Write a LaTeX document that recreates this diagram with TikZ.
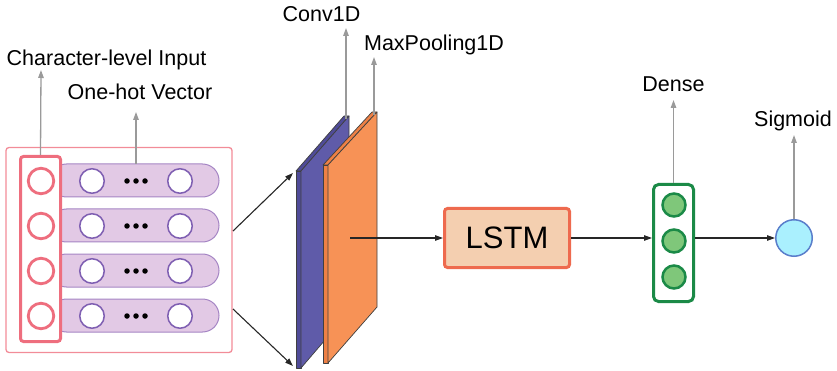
\documentclass[tikz,border=0pt]{standalone}
\usepackage{fontspec}
\setmainfont{Liberation Sans}
\usetikzlibrary{arrows.meta}
\definecolor{grayarr}{HTML}{9A9A9A}
\definecolor{redline}{HTML}{EE6E7E}
\definecolor{redouter}{HTML}{F28C98}
\definecolor{pillfill}{HTML}{E2C9E5}
\definecolor{pillline}{HTML}{A585C4}
\definecolor{purpc}{HTML}{7F5FB2}
\definecolor{blueslab}{HTML}{5F5BA9}
\definecolor{blueside}{HTML}{4F4B98}
\definecolor{orslab}{HTML}{F79256}
\definecolor{orside}{HTML}{EE8045}
\definecolor{lstmfill}{HTML}{F4CFB0}
\definecolor{lstmline}{HTML}{EE6A4E}
\definecolor{densel}{HTML}{1B8A47}
\definecolor{densef}{HTML}{7FC77A}
\definecolor{sigf}{HTML}{AAF0FE}
\definecolor{sigl}{HTML}{5A7ECB}
\begin{document}
\begin{tikzpicture}[x=1pt,y=-1pt,
  lbl/.style={font=\fontsize{21.5}{25}\selectfont, anchor=base, inner sep=0pt},
  garrow/.style={draw=grayarr, line width=1.3pt, -{Triangle[length=8pt,width=5.5pt]}},
  barrow/.style={draw=black!85, line width=1.1pt, -{Triangle[length=8pt,width=5.5pt]}},
  charc/.style={circle, draw=redline, line width=2.8pt, fill=white, minimum size=25.5pt, inner sep=0pt},
  hotc/.style={circle, draw=purpc, line width=1.5pt, fill=white, minimum size=24.5pt, inner sep=0pt},
  dotc/.style={circle, fill=black, minimum size=5.5pt, inner sep=0pt},
  pill/.style={fill=pillfill, draw=pillline, line width=1pt, rounded corners=16.5pt},
  densec/.style={circle, draw=densel, line width=2.5pt, fill=densef, minimum size=23pt, inner sep=0pt},
  slabline/.style={draw=black!75, line width=0.7pt, line join=round}
]
\useasboundingbox (0,0) rectangle (837,371);

% outer input box
\node[draw=redouter, line width=1.3pt, rounded corners=3pt, minimum width=226pt, minimum height=205pt, inner sep=0pt] (outer) at (119,250) {};

% pills
\foreach \i/\y in {1/180.5,2/225.5,3/270.5,4/315.5}{
  \draw[pill] (50,\y-16.5) rectangle (219,\y+16.5);
}
% inner red box
\node[draw=redline, fill=white, line width=3pt, rounded corners=3pt, minimum width=40pt, minimum height=185pt, inner sep=0pt] (inbox) at (40.5,249) {};

\foreach \i/\y in {1/181,2/226,3/271,4/316}{
  \node[charc] (c\i) at (41,\y) {};
  \node[hotc] (h\i a) at (92,\y) {};
  \node[hotc] (h\i b) at (180,\y) {};
  \node[dotc] (d\i a) at (127,\y) {};
  \node[dotc] (d\i b) at (136,\y) {};
  \node[dotc] (d\i c) at (145,\y) {};
}

% labels
\node[lbl] (lchar) at (106.5,66) {Character-level Input};
\node[lbl] (lhot) at (140,100) {One-hot Vector};
\node[lbl] (lconv) at (321.5,22) {Conv1D};
\node[lbl] (lmax) at (434,51) {MaxPooling1D};
\node[lbl] (ldense) at (673.5,92) {Dense};
\node[lbl] (lsig) at (793,127) {Sigmoid};

\coordinate (tchar) at (41,70);
\coordinate (thot) at (136,112);
\coordinate (sthot) at (136,164);
\coordinate (tconv) at (346,28);
\coordinate (sconv) at (346,119);
\coordinate (tmax) at (374,57);
\coordinate (smax) at (374,115.5);
\coordinate (tdense) at (673.5,100);
\coordinate (tsig) at (794,135);

\draw[garrow] (inbox.north) -- (tchar);
\draw[garrow] (sthot) -- (thot);

% slabs
\filldraw[slabline, fill=blueside] (296,171) -- (301,171) -- (301,368) -- (296,368) -- cycle;
\filldraw[slabline, fill=blueside] (296,171) -- (344,116) -- (349,116) -- (301,171) -- cycle;
\filldraw[slabline, fill=blueslab] (301,171) -- (349,116) -- (349,312) -- (301,368) -- cycle;
\filldraw[slabline, fill=orside] (323,165) -- (328,165) -- (328,363) -- (323,363) -- cycle;
\filldraw[slabline, fill=orside] (323,165) -- (372,112) -- (377,112) -- (328,165) -- cycle;
\filldraw[slabline, fill=orslab] (328,165) -- (377,112) -- (377,307) -- (328,363) -- cycle;

\coordinate (o1) at (233,231);
\coordinate (o2) at (233,309);
\coordinate (b1) at (293,173);
\coordinate (b2) at (293,366);
\coordinate (ocenter) at (350,238);

\draw[barrow] (o1) -- (b1);
\draw[barrow] (o2) -- (b2);

\draw[garrow] (sconv) -- (tconv);
\draw[garrow] (smax) -- (tmax);

% LSTM
\node[draw=lstmline, fill=lstmfill, line width=3pt, rounded corners=3pt, minimum width=125pt, minimum height=59pt, inner sep=0pt, font=\fontsize{31}{36}\selectfont] (lstm) at (507,238) {LSTM};

% Dense
\node[draw=densel, line width=3pt, rounded corners=5pt, minimum width=40pt, minimum height=117pt, inner sep=0pt, fill=white] (dense) at (673.5,243) {};
\node[densec] (g1) at (674,205) {};
\node[densec] (g2) at (674,241) {};
\node[densec] (g3) at (674,277) {};

% Sigmoid
\node[circle, draw=sigl, fill=sigf, line width=1.5pt, minimum size=36.5pt, inner sep=0pt] (sig) at (794,238) {};

\draw[barrow] (ocenter) -- (lstm.west);
\draw[barrow] (lstm.east) -- (dense.west |- lstm.east);
\draw[barrow] (dense.east |- sig.west) -- (sig.west);
\draw[garrow] (dense.north) -- (tdense);
\draw[garrow] (sig.north) -- (tsig);
\end{tikzpicture}
\end{document}
